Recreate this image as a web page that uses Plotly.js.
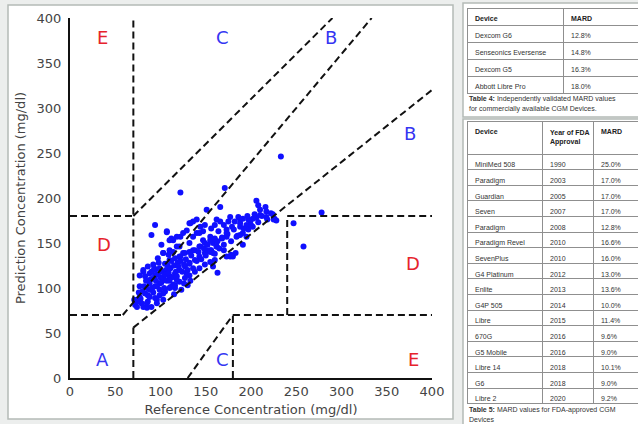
<!DOCTYPE html>
<html><head><meta charset="utf-8">
<script src="https://cdn.plot.ly/plotly-3.0.1.min.js"></script>
<style>html,body{margin:0;padding:0;background:#eceeed;} #chart{width:638px;height:424px;}</style>
</head><body><div id="chart"></div>
<script>
// Scatter: reference vs predicted glucose (mg/dl)
const refX = [233,122,171,206,247,258,278,
208,210,216,217,226,228,210,202,197,191,188,186,182,177,175,179,173,170,166,162,160,156,151,166,136,133,144,147,140,136,129,122,114,107,112,118,110,103,147,155,158,162,170,173,177,188,195,199,202,184,191,173,168,164,156,151,144,136,125,122,
94,90,107,110,101,118,125,132,140,149,143,132,121,114,109,103,97,92,86,81,77,83,88,94,99,105,110,116,121,127,132,138,143,149,155,160,155,149,143,138,132,127,121,116,110,105,99,94,88,83,77,74,72,79,86,94,99,105,110,116,121,127,132,138,143,149,155,160,158,162,130,116,126,96,103,90,85,81,
163,158,180,183,178,191,195,217,225,206,197,188,173,81,88,77,71,74,85,96,103,111,118,129,133,123,115,
85,88,90,92,95,97,100,102,104,106,108,90,93,96,99,101,103,86,84,82,80,78,76,75,88,91,94,98,105,107,109,111,113,115,117,119,112,110,114,118,120,122,124,126,128,130,132,134,136,140,142,145,148,150,152,155,160,163,165,168,170,174,178,181,185,188,192,196,200,204,208,212,218,222,224];
const predY = [246,206,211,197,172,146,184,
192,187,190,185,177,175,181,177,176,177,176,179,174,179,174,168,165,170,174,176,170,166,187,190,174,172,168,163,161,157,164,157,153,162,155,146,142,139,153,157,150,146,142,135,135,168,170,174,168,157,161,157,155,163,142,142,146,142,139,135,
170,159,163,153,148,157,161,172,176,170,161,150,146,140,137,139,133,126,124,118,114,113,116,120,122,127,131,133,135,139,140,142,146,150,153,155,142,139,135,131,127,124,120,116,113,109,105,102,98,94,90,87,81,83,85,89,92,96,100,103,107,111,114,118,122,126,129,131,139,146,103,100,105,83,87,79,78,79,
117,124,135,139,137,148,157,179,176,178,165,159,161,120,109,102,87,79,83,87,94,101,109,116,108,98,93,
100,105,110,95,108,115,112,118,100,120,125,118,122,102,98,106,112,92,108,102,96,88,95,85,90,100,114,128,115,108,117,122,112,125,118,128,130,108,104,113,124,130,118,126,132,120,128,136,122,130,140,132,144,136,148,140,138,152,144,156,148,160,152,165,158,172,166,180,170,182,173,180,176,183,182];

// Clarke error grid boundaries (segments separated by null)
const gridX = [0,58.33,null, 58.33,333.33,null, 70,70,null, 0,70,null, 70,290,null, 70,70,null, 70,400,null, 180,180,null, 180,400,null, 240,240,null, 240,400,null, 130,180];
const gridY = [70,70,null, 70,400,null, 84,400,null, 180,180,null, 180,400,null, 0,56,null, 56,320,null, 0,70,null, 70,70,null, 70,180,null, 180,180,null, 0,70];

// Zone labels
const zoneText = ['E','C','B','B','D','D','A','C','E'];
const zoneX = [36,168,288,376,38,379,36,168,379];
const zoneY = [378,378,378,272,148,127,21,21,21];

const tickVals = [0,50,100,150,200,250,300,350,400];

// Table 4
const t4Header = ['Device','MARD'];
const t4Device = ['Dexcom G6','Senseonics Eversense','Dexcom G5','Abbott Libre Pro'];
const t4Mard = ['12.8%','14.8%','16.3%','18.0%'];

// Table 5
const t5Header = ['Device','Year of FDA<br>Approval','MARD'];
const t5Device = ['MiniMed 508','Paradigm','Guardian','Seven','Paradigm','Paradigm Revel','SevenPlus','G4 Platinum','Enlite','G4P 505','Libre','670G','G5 Mobile','Libre 14','G6','Libre 2'];
const t5Year = ['1990','2003','2005','2007','2008','2010','2010','2012','2013','2014','2015','2016','2016','2018','2018','2020'];
const t5Mard = ['25.0%','17.0%','17.0%','17.0%','12.8%','16.6%','16.0%','13.0%','13.6%','10.0%','11.4%','9.6%','9.0%','10.1%','9.0%','9.2%'];

const W = 638, H = 424;
const px = v => v / W;
const py = v => 1 - v / H;

const blue = '#3535f2', red = '#e6232c';
const axFont = {family: 'DejaVu Sans', size: 13, color: '#444'};
const tblFont = {family: 'Liberation Sans, Arial', size: 7, color: '#333'};
const hdrFont = {family: 'Liberation Sans, Arial', size: 7, color: '#222', weight: 'bold'};
const tblLine = {color: '#8f8f8f', width: 1};

const traces = [
  {type: 'scatter', mode: 'markers', x: refX, y: predY,
   marker: {color: '#1010ff', size: 6, line: {width: 0}}, hoverinfo: 'x+y', showlegend: false},
  {type: 'scatter', mode: 'lines', x: gridX, y: gridY, connectgaps: false,
   line: {color: '#111', width: 2, dash: '7px,4px'}, hoverinfo: 'skip', showlegend: false},
  {type: 'table', domain: {x: [px(467), 1], y: [py(97), py(8)]},
   columnwidth: [96, 75],
   header: {values: t4Header, align: 'left', height: 17,
            font: hdrFont, fill: {color: 'white'}, line: tblLine},
   cells: {values: [t4Device, t4Mard], align: 'left', height: 17,
           font: tblFont, fill: {color: 'white'}, line: tblLine}},
  {type: 'table', domain: {x: [px(467), 1], y: [0, py(121)]},
   columnwidth: [75, 51, 45],
   header: {values: t5Header, align: 'left', height: 23,
            font: hdrFont, fill: {color: 'white'}, line: tblLine},
   cells: {values: [t5Device, t5Year, t5Mard], align: 'left', height: 15.6,
           font: tblFont, fill: {color: 'white'}, line: tblLine}}
];

const annotations = zoneText.map((t, i) => ({
  x: zoneX[i], y: zoneY[i], xref: 'x', yref: 'y', text: t, showarrow: false,
  xanchor: 'center', yanchor: 'middle',
  font: {family: 'DejaVu Sans', size: 18, color: (t === 'D' || t === 'E') ? red : blue}
}));
const cap = (text, x, y) => ({x: px(x), y: py(y), xref: 'paper', yref: 'paper', text: text,
  showarrow: false, xanchor: 'left', yanchor: 'middle', font: tblFont});
annotations.push(cap('<b>Table 4:</b> Independently validated MARD values', 467, 99));
annotations.push(cap('for commercially available CGM Devices.', 467, 109));
annotations.push(cap('<b>Table 5:</b> MARD values for FDA-approved CGM', 467, 410));
annotations.push(cap('Devices', 467, 419));

const boxLine = {color: '#b4bbb7', width: 1.5};
const shapes = [
  {type: 'rect', xref: 'paper', yref: 'paper', x0: px(8), x1: px(453), y0: py(419), y1: py(5),
   fillcolor: 'white', line: boxLine, layer: 'below'},
  {type: 'rect', xref: 'paper', yref: 'paper', x0: px(463), x1: px(650), y0: py(117), y1: py(3),
   fillcolor: 'white', line: boxLine, layer: 'below'},
  {type: 'rect', xref: 'paper', yref: 'paper', x0: px(463), x1: px(650), y0: py(440), y1: py(119),
   fillcolor: 'white', line: boxLine, layer: 'below'}
];

const layout = {
  width: W, height: H, margin: {l: 0, r: 0, t: 0, b: 0},
  paper_bgcolor: '#eceeed', plot_bgcolor: 'rgba(0,0,0,0)',
  showlegend: false,
  xaxis: {domain: [px(70), px(432)], range: [0, 400], tickvals: tickVals, ticks: '',
          showline: true, linecolor: '#111', linewidth: 2, showgrid: false, zeroline: false,
          tickfont: axFont, fixedrange: true,
          title: {text: 'Reference Concentration (mg/dl)', font: axFont, standoff: 7}},
  yaxis: {domain: [py(378), py(18)], range: [0, 400], tickvals: tickVals, ticks: '',
          showline: true, linecolor: '#111', linewidth: 2, showgrid: false, zeroline: false,
          tickfont: axFont, fixedrange: true, ticklabelstandoff: 4,
          title: {text: 'Prediction Concentration (mg/dl)', font: axFont, standoff: 8}},
  annotations: annotations,
  shapes: shapes
};

Plotly.newPlot('chart', traces, layout, {displayModeBar: false, staticPlot: true});
</script></body></html>
